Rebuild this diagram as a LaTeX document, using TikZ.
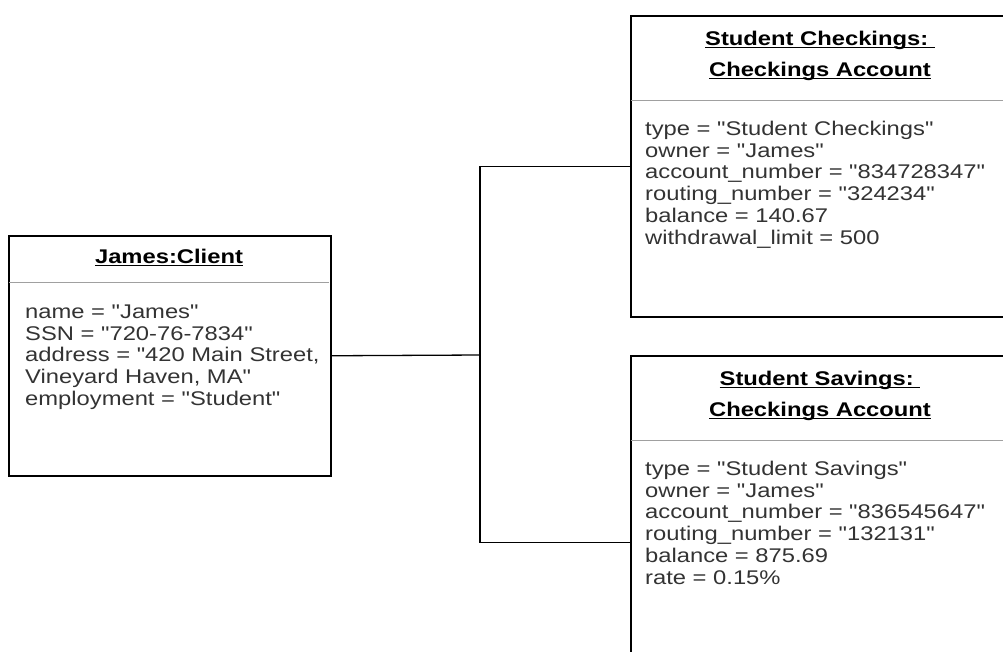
\documentclass[tikz,border=0pt]{standalone}
\usepackage{fontspec}
\newfontfamily\umlfont[FakeStretch=1.2]{Liberation Sans}
\definecolor{attrgray}{HTML}{333333}
\definecolor{sepgray}{HTML}{A0A0A0}
\newcommand\myul[1]{\setbox0\hbox{#1}\rlap{\rule[-2.8pt]{\wd0}{1.2pt}}\box0}
\begin{document}
\begin{tikzpicture}[x=1pt,y=-1pt,
  objbox/.style={draw=black, line width=1.5pt, rectangle, inner sep=0pt, anchor=north west},
  sepline/.style={draw=sepgray, line width=1pt},
  conn/.style={draw=black, line width=1.3pt},
  hdr/.style={inner sep=0pt, anchor=base, text=black, font=\umlfont\bfseries\fontsize{19.8}{21.7}\selectfont},
  attrs/.style={inner sep=0pt, anchor=base west, text=attrgray, text width=360pt, align=left, font=\umlfont\fontsize{19.8}{21.7}\selectfont}
]
\useasboundingbox (0,0) rectangle (1003,651);
% boxes
\node[objbox, minimum width=322pt, minimum height=240pt] (client) at (8,235) {};
\node[objbox, minimum width=380pt, minimum height=301pt] (chk) at (630,15) {};
\node[objbox, minimum width=380pt, minimum height=374pt] (sav) at (630,355) {};
% separators
\draw[sepline] (8.8,282.7) -- (329.2,282.7);
\draw[sepline] (630.8,100) -- (1009.2,100);
\draw[sepline] (630.8,440) -- (1009.2,440);
% headers
\node[hdr] (clienthdr) at (169,263) {\myul{James:Client}};
\node[hdr] (chkhdra) at (820,45.5) {\myul{Student Checkings:\ }};
\node[hdr] (chkhdrb) at (820,76.5) {\myul{Checkings Account}};
\node[hdr] (savhdra) at (820,385.5) {\myul{Student Savings:\ }};
\node[hdr] (savhdrb) at (820,416.5) {\myul{Checkings Account}};
% attributes
\node[attrs] (clientattr) at (25,318.5) {name = "James"\\SSN = "720-76-7834"\\address = "420 Main Street,\\Vineyard Haven, MA"\\employment = "Student"};
\node[attrs] (chkattr) at (645,135.5) {type = "Student Checkings"\\owner = "James"\\account\_number = "834728347"\\routing\_number = "324234"\\balance = 140.67\\withdrawal\_limit = 500};
\node[attrs] (savattr) at (645,475.5) {type = "Student Savings"\\owner = "James"\\account\_number = "836545647"\\routing\_number = "132131"\\balance = 875.69\\rate = 0.15\%};
% connectors
\coordinate (bus) at (480,355);
\draw[conn] (client.east) -- (bus);
\draw[conn] (chk.west) -- (chk.west -| bus) -- (sav.west -| bus) -- (sav.west);
\end{tikzpicture}
\end{document}
